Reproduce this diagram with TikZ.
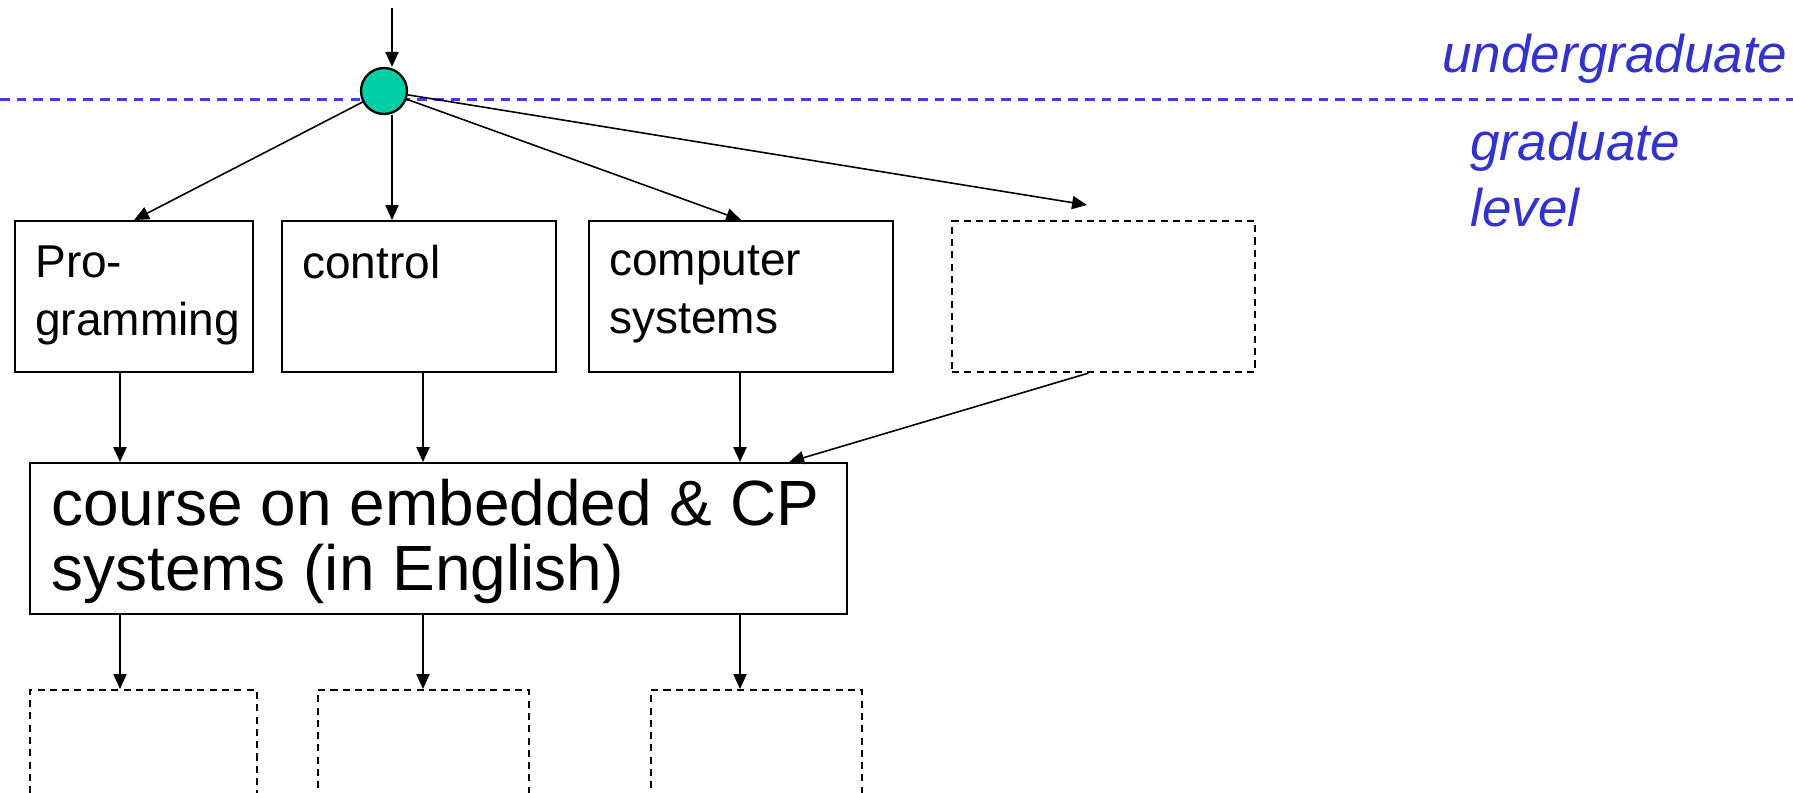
\documentclass[tikz,border=0pt]{standalone}
\usepackage{fontspec}
\setmainfont{Liberation Sans}
\usepackage{tikz}
\usetikzlibrary{arrows.meta}
\definecolor{lvl}{HTML}{3333CC}
\definecolor{lvlline}{HTML}{4040D8}
\definecolor{hubfill}{HTML}{00CFA5}
\tikzset{
  box/.style={draw, line width=1.3pt, anchor=north west, minimum height=3.02cm, inner sep=0pt},
  open/.style={box, line width=1.2pt, dash pattern=on 4pt off 3pt},
  arr/.style={draw, line width=0.9pt, -{Triangle[length=8.5pt,width=7.5pt]}},
  txt/.style={anchor=north west, inner sep=0pt, align=left, font=\fontsize{26.2}{33}\selectfont, xshift=0.42cm, yshift=-0.5cm},
  big/.style={anchor=north west, inner sep=0pt, align=left, font=\fontsize{36.4}{36.8}\selectfont, xshift=0.44cm, yshift=-0.34cm},
  lvltxt/.style={text=lvl, inner sep=0pt, align=left, font=\fontsize{30.2}{37.2}\selectfont\itshape},
  sep/.style={draw=lvlline, line width=1.4pt, dash pattern=on 5.5pt off 4pt},
}

\begin{document}
\begin{tikzpicture}[x=0.02cm, y=-0.02cm]
  \clip (0,0) rectangle (1793,792);
  % level divider
  \draw[sep] (0,99.5) -- (1793,99.5);
  \node[lvltxt, anchor=base west] (ug) at (1442,72) {undergraduate};
  \node[lvltxt, anchor=north west] (gl) at (1470,122) {graduate\\level};

  \coordinate (in) at (392,8);
  \coordinate (ext) at (1087,205);
  \node[circle, draw, line width=1.3pt, fill=hubfill, minimum size=0.92cm, inner sep=0pt] (hub) at (384,91) {};

  % prerequisites
  \node[box, minimum width=4.76cm, label={[txt]north west:{Pro-\\gramming}}] (pro) at (14,220) {};
  \node[box, minimum width=5.48cm, label={[txt]north west:{control}}] (ctl) at (281,220) {};
  \node[box, minimum width=6.08cm, label={[txt]north west:{computer\\systems}}] (cmp) at (588,220) {};
  \node[open, minimum width=6.06cm] (dsh) at (951,220) {};

  % the course
  \node[box, minimum width=16.34cm, label={[big]north west:{course on embedded \& CP\\systems (in English)}}] (course) at (29,462) {};

  % follow-ups
  \node[open, minimum width=4.54cm] (fa) at (29,689) {};
  \node[open, minimum width=4.22cm] (fb) at (317,689) {};
  \node[open, minimum width=4.22cm] (fc) at (650,689) {};

  \draw[arr] (in) -- (in |- hub.north);
  \draw[arr] (hub) -- (pro.north);
  \draw[arr] (in |- hub.south) -- (in |- ctl.north);
  \draw[arr] (hub) -- (cmp.north);
  \draw[arr] (hub) -- (ext);

  \coordinate (c1) at (120,0);
  \coordinate (c2) at (423,0);
  \coordinate (c3) at (740,0);
  \foreach \up/\lo/\c in {pro/fa/c1, ctl/fb/c2, cmp/fc/c3} {
    \draw[arr] (\up.south -| \c) -- (course.north -| \c);
    \draw[arr] (course.south -| \c) -- (\lo.north -| \c);
  }
  \draw[arr] ([shift={(-15,0)}]dsh.south) -- ([shift={(-59,0)}]course.north east);
\end{tikzpicture}
\end{document}
